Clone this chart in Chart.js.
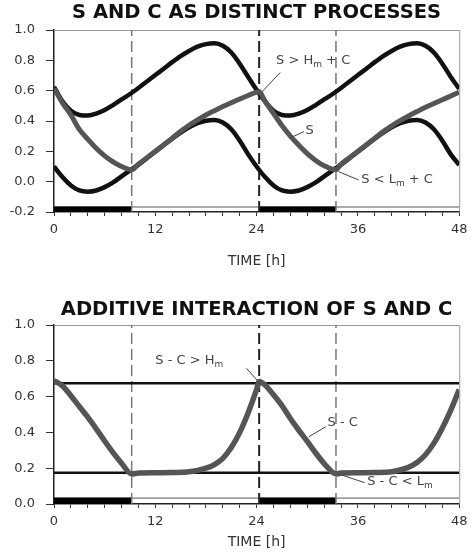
<!DOCTYPE html>
<html>
<head>
<meta charset="utf-8">
<script src="https://cdn.jsdelivr.net/npm/chart.js@4.4.1/dist/chart.umd.min.js"></script>
<style>
    body { margin: 0; background: #fff; }
    canvas { position: absolute; left: 0; }
    #graficoProcessos { top: 0; }
    #graficoAditivo { top: 278px; }
</style>
</head>
<body>
<canvas id="graficoProcessos" width="475" height="275"></canvas>
<canvas id="graficoAditivo" width="475" height="275"></canvas>
<script>
// ---- data ----
var horasC = [0,1,2,3,4,5,6,7,8,9,10,11,12,13,14,15,16,17,18,19,20,21,22,23,24,
              25,26,27,28,29,30,31,32,33,34,35,36,37,38,39,40,41,42,43,44,45,46,47,48];
// upper threshold  Hm + C
var limiteSuperior = [0.625,0.53,0.468,0.44,0.436,0.448,0.472,0.505,0.542,0.578,0.618,0.66,0.703,0.745,0.788,0.828,0.862,0.89,0.907,0.912,0.896,0.852,0.778,0.69,0.605,
                      0.53,0.468,0.44,0.436,0.448,0.472,0.505,0.542,0.578,0.618,0.66,0.703,0.745,0.788,0.828,0.862,0.89,0.907,0.912,0.896,0.852,0.778,0.69,0.612];
// lower threshold  Lm + C
var limiteInferior = [0.10,0.03,-0.025,-0.058,-0.066,-0.058,-0.036,-0.005,0.035,0.074,0.112,0.155,0.198,0.24,0.283,0.323,0.358,0.385,0.402,0.407,0.39,0.345,0.27,0.18,0.10,
                      0.03,-0.025,-0.058,-0.066,-0.058,-0.036,-0.005,0.035,0.074,0.112,0.155,0.198,0.24,0.283,0.323,0.358,0.385,0.402,0.407,0.39,0.345,0.27,0.18,0.11];

// homeostatic process S
var horasS = [0,1,2,3,4,5,6,7,8,9.2,10,11,12,13,14,15,16,17,18,19,20,21,22,23,24.3,
              25,26,27,28,29,30,31,32,33.4,34,35,36,37,38,39,40,41,42,43,44,45,46,47,48];
var processoS = [0.615,0.52,0.44,0.345,0.28,0.22,0.17,0.13,0.10,0.078,0.115,0.158,0.20,0.243,0.287,0.332,0.372,0.408,0.44,0.468,0.495,0.52,0.545,0.568,0.593,
                 0.53,0.45,0.37,0.30,0.24,0.185,0.14,0.105,0.078,0.115,0.158,0.20,0.243,0.287,0.33,0.368,0.402,0.433,0.462,0.49,0.515,0.54,0.565,0.59];

// S - C against fixed thresholds
var horasSC = [0,1,2,3,4,5,6,7,8,9.2,10,12,14,16,17,18,19,20,21,22,23,24,24.3,
               25,26,27,28,29,30,31,32,33.4,34,36,38,40,41,42,43,44,45,46,47,48];
var diferencaSC = [0.69,0.66,0.605,0.545,0.485,0.42,0.352,0.287,0.228,0.168,0.173,0.175,0.176,0.18,0.188,0.2,0.22,0.255,0.315,0.40,0.51,0.64,0.685,
                   0.665,0.61,0.55,0.478,0.412,0.35,0.285,0.226,0.168,0.173,0.175,0.176,0.18,0.19,0.205,0.232,0.275,0.34,0.425,0.525,0.64];
var nivelHm = 0.674;
var nivelLm = 0.175;

// sleep episodes (black bars) and wake/sleep transitions
var inicioSono = [0, 24.3];
var fimSono = [9.2, 33.4];
var transicoes = [9.2, 24.3, 33.4];

var rotulosX = [0, 12, 24, 36, 48];

var FONTE = "DejaVu Sans";

// ---- helpers ----
function pontos(xs, ys) {
    return xs.map(function (x, i) { return { x: x, y: ys[i] }; });
}

function curva(xs, ys, cor, largura) {
    return {
        data: pontos(xs, ys),
        borderColor: cor,
        borderWidth: largura,
        pointRadius: 0,
        cubicInterpolationMode: "monotone",
        fill: false
    };
}

function linhasTracejadas(yMin, yMax) {
    return transicoes.map(function (t, i) {
        var meio = (i === 1);
        return {
            data: [{ x: t, y: yMin }, { x: t, y: yMax }],
            borderColor: meio ? "#222" : "#777",
            borderWidth: meio ? 2 : 1.5,
            borderDash: [11, 5],
            pointRadius: 0,
            fill: false
        };
    });
}

function faixaSono(yMin, yTopo) {
    var lista = inicioSono.map(function (ini, i) {
        return {
            data: [{ x: ini, y: yTopo }, { x: fimSono[i], y: yTopo }],
            borderColor: "#000",
            borderWidth: 1,
            backgroundColor: "#000",
            pointRadius: 0,
            fill: { value: yMin }
        };
    });
    // outline of the wake part of the bar
    lista.push({
        data: [{ x: 0, y: yTopo }, { x: 48, y: yTopo }],
        borderColor: "#555",
        borderWidth: 1,
        pointRadius: 0,
        fill: false
    });
    return lista;
}

// frame on top and right + annotations with leader lines
var pluginMoldura = {
    id: "moldura",
    beforeDatasetsDraw: function (chart) {
        var a = chart.chartArea, ctx = chart.ctx;
        ctx.save();
        ctx.strokeStyle = "#999";
        ctx.lineWidth = 1;
        ctx.beginPath();
        ctx.moveTo(a.left, a.top + 0.5);
        ctx.lineTo(a.right + 0.5, a.top + 0.5);
        ctx.lineTo(a.right + 0.5, a.bottom);
        ctx.stroke();
        ctx.restore();
    },
    afterDatasetsDraw: function (chart, args, opts) {
        var ctx = chart.ctx, sx = chart.scales.x, sy = chart.scales.y;
        (opts.notas || []).forEach(function (n) {
            ctx.save();
            ctx.strokeStyle = "#444";
            ctx.lineWidth = 1;
            ctx.beginPath();
            ctx.moveTo(sx.getPixelForValue(n.de[0]), sy.getPixelForValue(n.de[1]));
            ctx.lineTo(sx.getPixelForValue(n.ate[0]), sy.getPixelForValue(n.ate[1]));
            ctx.stroke();

            var x = sx.getPixelForValue(n.tx);
            var y = sy.getPixelForValue(n.ty);
            ctx.fillStyle = "#444";
            ctx.textBaseline = "middle";
            ctx.textAlign = "left";
            n.texto.forEach(function (parte) {
                var sub = parte[1];
                ctx.font = (sub ? "9px " : "13px ") + FONTE;
                ctx.fillText(parte[0], x, sub ? y + 4 : y);
                x += ctx.measureText(parte[0]).width;
            });
            ctx.restore();
        });
    }
};

function opcoes(cfg) {
    return {
        responsive: false,
        animation: false,
        events: [],
        layout: { padding: { left: 0, right: 9, top: 0, bottom: 0 } },
        plugins: {
            legend: { display: false },
            tooltip: { enabled: false },
            title: {
                display: true,
                text: cfg.titulo,
                fullSize: false,
                color: "#111",
                font: { family: FONTE, size: 19.5, weight: "bold", lineHeight: "20px" },
                padding: cfg.padTitulo
            },
            moldura: { notas: cfg.notas }
        },
        scales: {
            x: {
                type: "linear",
                min: 0,
                max: 48,
                afterFit: function (s) { s.height = cfg.alturaX; },
                ticks: {
                    stepSize: 2,
                    autoSkip: false,
                    maxRotation: 0,
                    padding: 7.5,
                    color: "#333",
                    font: { family: FONTE, size: 13, lineHeight: 1 },
                    callback: function (v) { return rotulosX.indexOf(v) >= 0 ? String(v) : ""; }
                },
                grid: { drawOnChartArea: false, tickLength: 4, color: "#333" },
                border: { color: "#222", width: 1.5 },
                title: {
                    display: true,
                    text: "TIME [h]",
                    color: "#333",
                    font: { family: FONTE, size: 14 },
                    padding: { top: 0, bottom: cfg.padTempo }
                }
            },
            y: {
                min: cfg.yMin,
                max: 1.0,
                afterFit: function (s) { s.width = 54; },
                ticks: {
                    stepSize: 0.2,
                    padding: 11,
                    color: "#333",
                    font: { family: FONTE, size: 13 },
                    callback: function (v) {
                        if (Math.abs(v) < 1e-9) v = 0;
                        return v.toFixed(1);
                    }
                },
                grid: { drawOnChartArea: false, tickLength: 8, color: "#333" },
                border: { color: "#222", width: 1.5 }
            }
        }
    };
}

function plotarProcessos() {
    var ctx = graficoProcessos.getContext("2d");
    var conjuntos = [
        curva(horasS, processoS, "#555", 5),
        curva(horasC, limiteSuperior, "#111", 4.5),
        curva(horasC, limiteInferior, "#111", 4.5)
    ].concat(linhasTracejadas(-0.2, 1.0), faixaSono(-0.2, -0.167));

    new Chart(ctx, {
        type: "line",
        data: { datasets: conjuntos },
        plugins: [pluginMoldura],
        options: opcoes({
            titulo: "S AND C AS DISTINCT PROCESSES",
            padTitulo: { top: 3, bottom: 7 },
            alturaX: 63,
            padTempo: 4.9,
            yMin: -0.2,
            notas: [
                { texto: [["S > H", false], ["m", true], [" + C", false]], tx: 26.3, ty: 0.80, de: [26.8, 0.72], ate: [24.6, 0.59] },
                { texto: [["S", false]], tx: 29.8, ty: 0.335, de: [29.6, 0.33], ate: [27.9, 0.286] },
                { texto: [["S < L", false], ["m", true], [" + C", false]], tx: 36.4, ty: 0.011, de: [36.1, 0.011], ate: [33.7, 0.066] }
            ]
        })
    });
}

function plotarAditivo() {
    var ctx = graficoAditivo.getContext("2d");
    var conjuntos = [
        curva(horasSC, diferencaSC, "#555", 5.5),
        curva([0, 48], [nivelHm, nivelHm], "#111", 2.5),
        curva([0, 48], [nivelLm, nivelLm], "#111", 2.5)
    ].concat(linhasTracejadas(0, 1.0), faixaSono(0, 0.033));

    new Chart(ctx, {
        type: "line",
        data: { datasets: conjuntos },
        plugins: [pluginMoldura],
        options: opcoes({
            titulo: "ADDITIVE INTERACTION OF S AND C",
            padTitulo: { top: 22, bottom: 5 },
            alturaX: 49,
            padTempo: 2.6,
            yMin: 0,
            notas: [
                { texto: [["S - C > H", false], ["m", true]], tx: 12.0, ty: 0.80, de: [22.8, 0.758], ate: [24.4, 0.674] },
                { texto: [["S - C", false]], tx: 32.4, ty: 0.455, de: [32.2, 0.432], ate: [30.2, 0.376] },
                { texto: [["S - C < L", false], ["m", true]], tx: 37.1, ty: 0.126, de: [36.8, 0.119], ate: [33.7, 0.168] }
            ]
        })
    });
}

plotarProcessos();
plotarAditivo();
</script>
</body>
</html>
